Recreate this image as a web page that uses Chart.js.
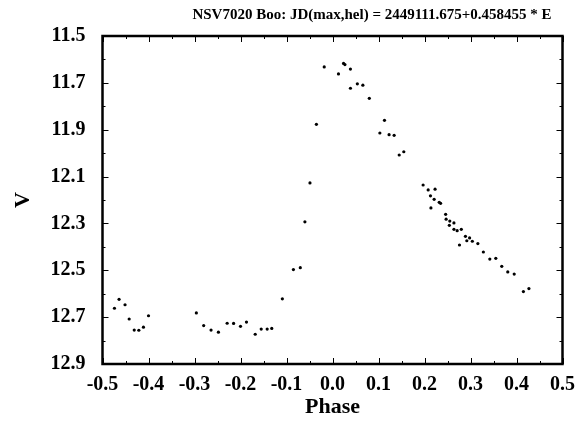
<!DOCTYPE html>
<html>
<head>
<meta charset="utf-8">
<script src="https://cdn.jsdelivr.net/npm/chart.js@4"></script>
<style>
  html, body { margin: 0; padding: 0; background: #fff; }
  #wrap { width: 576px; height: 421px; }
</style>
</head>
<body>
<div id="wrap"><canvas id="lc" width="576" height="421"></canvas></div>
<script>
// phase / V magnitude
const phase = [
  -0.474, -0.464, -0.451, -0.442, -0.431, -0.421, -0.411, -0.400,
  -0.296, -0.280, -0.264, -0.248, -0.229, -0.215, -0.200, -0.187,
  -0.168, -0.155, -0.142, -0.132, -0.109, -0.085, -0.070, -0.060,
  -0.049, -0.035, -0.018, 0.013, 0.024, 0.027, 0.039, 0.039,
  0.054, 0.066, 0.080, 0.103, 0.113, 0.123, 0.134, 0.145, 0.155,
  0.197, 0.208, 0.223, 0.213, 0.221, 0.232, 0.235, 0.214, 0.246,
  0.247, 0.255, 0.264, 0.254, 0.264, 0.271, 0.280, 0.276, 0.289,
  0.298, 0.292, 0.304, 0.316, 0.328, 0.342, 0.355, 0.368, 0.381,
  0.395, 0.415, 0.427
];
const vmag = [
  12.662, 12.624, 12.647, 12.708, 12.755, 12.756, 12.743, 12.694,
  12.682, 12.736, 12.755, 12.764, 12.726, 12.727, 12.739, 12.721,
  12.773, 12.751, 12.751, 12.748, 12.622, 12.497, 12.489, 12.293,
  12.127, 11.877, 11.632, 11.662, 11.617, 11.622, 11.641, 11.723,
  11.704, 11.710, 11.766, 11.914, 11.860, 11.921, 11.924, 12.008, 11.994,
  12.136, 12.157, 12.154, 12.182, 12.197, 12.210, 12.214, 12.234, 12.261,
  12.282, 12.290, 12.298, 12.308, 12.325, 12.331, 12.325, 12.392, 12.355,
  12.362, 12.374, 12.376, 12.386, 12.422, 12.452, 12.449, 12.483, 12.507,
  12.516, 12.591, 12.578
];
const xTicks = [-0.5, -0.4, -0.3, -0.2, -0.1, 0.0, 0.1, 0.2, 0.3, 0.4, 0.5];
const yTicks = [11.5, 11.7, 11.9, 12.1, 12.3, 12.5, 12.7, 12.9];
const titleText = 'NSV7020 Boo: JD(max,hel) = 2449111.675+0.458455 * E';

const serif = '"Liberation Serif", "Times New Roman", serif';
const pts = phase.map((p, i) => ({ x: p, y: vmag[i] }));

// frame, inward ticks and the title text
const framePlugin = {
  id: 'frame',
  afterDraw(chart) {
    const ctx = chart.ctx;
    const a = chart.chartArea;
    const xs = chart.scales.x, ys = chart.scales.y;
    ctx.save();
    ctx.strokeStyle = '#000';
    ctx.lineWidth = 1;
    ctx.beginPath();
    for (let i = 0; i <= 20; i++) {
      const v = -0.5 + i * 0.05;
      const px = Math.round(xs.getPixelForValue(v)) + 0.5;
      const len = i % 2 === 0 ? 6 : 3;
      ctx.moveTo(px, a.bottom); ctx.lineTo(px, a.bottom - len);
      ctx.moveTo(px, a.top); ctx.lineTo(px, a.top + len);
    }
    for (let i = 0; i <= 14; i++) {
      const v = 11.5 + i * 0.1;
      const py = Math.round(ys.getPixelForValue(v)) + 0.5;
      const len = i % 2 === 0 ? 6 : 3;
      ctx.moveTo(a.left, py); ctx.lineTo(a.left + len, py);
      ctx.moveTo(a.right, py); ctx.lineTo(a.right - len, py);
    }
    ctx.stroke();
    ctx.lineWidth = 2.5;
    ctx.strokeRect(a.left, a.top, a.right - a.left, a.bottom - a.top);
    ctx.fillStyle = '#000';
    ctx.font = 'bold 15px ' + serif;
    ctx.textAlign = 'center';
    ctx.textBaseline = 'middle';
    ctx.fillText(titleText, 372, 15);
    ctx.restore();
  }
};

new Chart(document.getElementById('lc'), {
  type: 'scatter',
  data: {
    datasets: [{
      data: pts,
      backgroundColor: '#000',
      borderColor: '#000',
      pointRadius: 1.6,
      pointBorderWidth: 0,
    }],
  },
  options: {
    responsive: false,
    animation: false,
    layout: { padding: { top: 36, right: 0, bottom: 0, left: 0 } },
    plugins: { legend: { display: false }, tooltip: { enabled: false } },
    scales: {
      x: {
        type: 'linear',
        min: -0.5,
        max: 0.5,
        afterFit: (s) => { s.height = 57; },
        afterBuildTicks: (s) => { s.ticks = xTicks.map(v => ({ value: v })); },
        grid: { display: false },
        border: { display: false },
        ticks: {
          color: '#000',
          padding: 1,
          maxRotation: 0,
          autoSkip: false,
          font: { family: serif, size: 20, weight: 'bold' },
          callback: (v) => (Math.abs(v) < 1e-9 ? 0 : v).toFixed(1),
        },
        title: {
          display: true,
          text: 'Phase',
          color: '#000',
          padding: { top: 2, bottom: 0 },
          font: { family: serif, size: 22, weight: 'bold' },
        },
      },
      y: {
        type: 'linear',
        reverse: true,
        min: 11.5,
        max: 12.9,
        afterFit: (s) => { s.width = 102.5; },
        afterBuildTicks: (s) => { s.ticks = yTicks.map(v => ({ value: v })); },
        grid: { display: false },
        border: { display: false },
        ticks: {
          color: '#000',
          padding: 9,
          autoSkip: false,
          font: { family: serif, size: 20, weight: 'bold' },
          callback: (v) => v.toFixed(1),
        },
        title: {
          display: true,
          text: 'V',
          color: '#000',
          padding: { top: 10, bottom: 0 },
          font: { family: serif, size: 22, weight: 'bold' },
        },
      },
    },
  },
  plugins: [framePlugin],
});
</script>
</body>
</html>
